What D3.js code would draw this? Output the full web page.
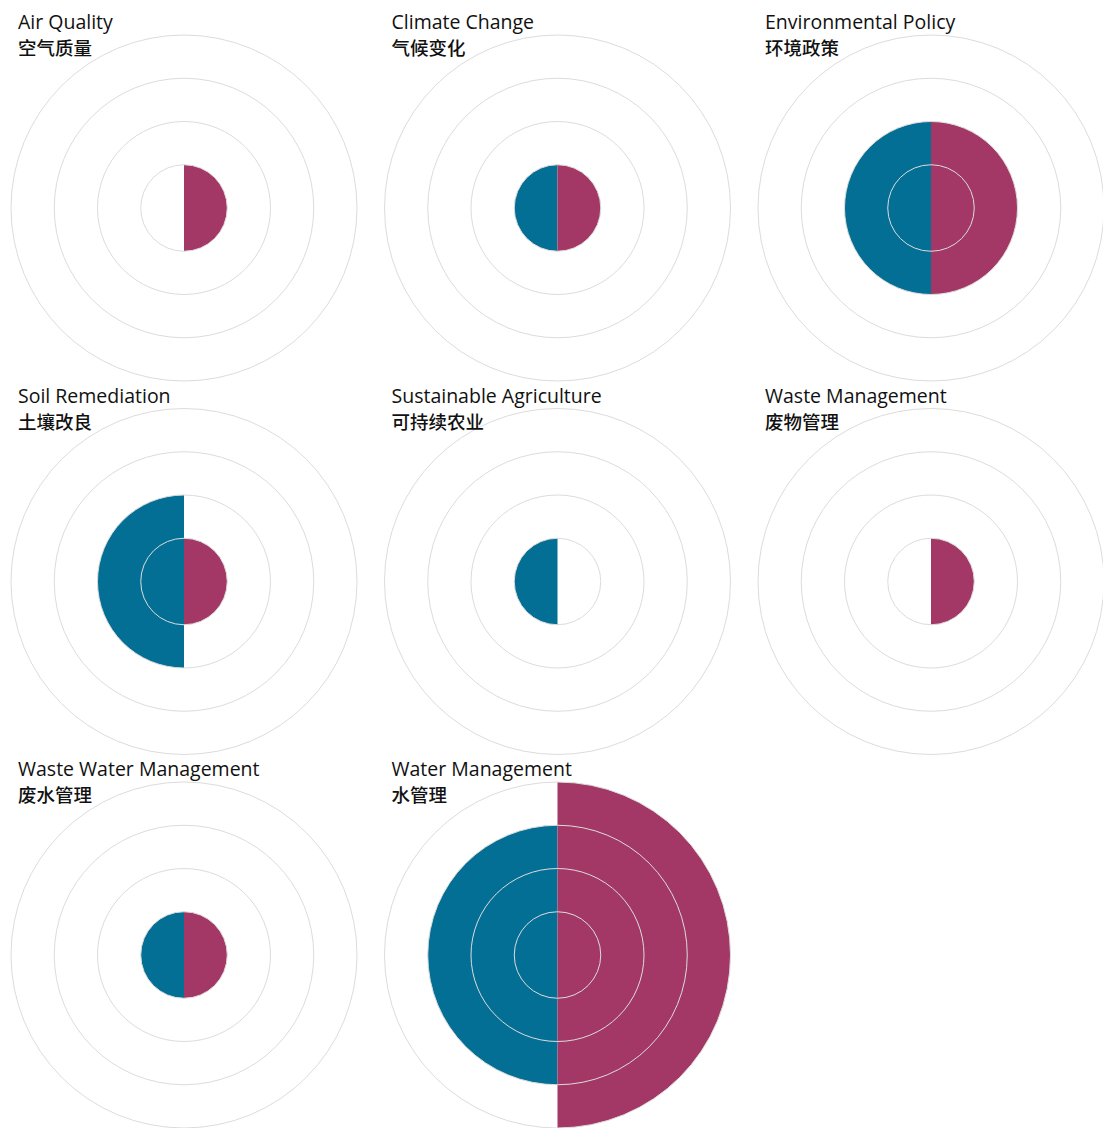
<!DOCTYPE html>
<html>
<head>
<meta charset="utf-8">
<script src="https://cdn.jsdelivr.net/npm/d3@7"></script>
<style>
  body { margin: 0; background: #fff; }
  svg { display: block; }
</style>
</head>
<body>
<div id="chart"></div>
<script>
// topics, english + chinese
var topics = ["Air Quality", "Climate Change", "Environmental Policy",
              "Soil Remediation", "Sustainable Agriculture", "Waste Management",
              "Waste Water Management", "Water Management"];
var topicsZh = ["空气质量", "气候变化", "环境政策",
                "土壤改良", "可持续农业", "废物管理",
                "废水管理", "水管理"];

// left half (blue) and right half (magenta)
var leftValues  = [0, 1, 2, 2, 1, 0, 1, 3];
var rightValues = [1, 1, 2, 1, 0, 1, 1, 4];

var gridTicks = [1, 2, 3, 4];

// set the dimensions
var width = 1103
    height = 1128
    cols = 3
    step = 373.5
    x0 = 184
    y0 = 208
    maxR = 173

var svg = d3.select("#chart")
  .append("svg")
    .attr("width", width)
    .attr("height", height)

var r = d3.scaleLinear()
  .domain([0, 4])
  .range([0, maxR])

var arc = d3.arc()
  .innerRadius(0)
  .outerRadius(function(d) { return r(d.value) })
  .startAngle(function(d) { return d.start })
  .endAngle(function(d) { return d.end })

var charts = svg.selectAll("g.small")
  .data(topics)
  .enter()
  .append("g")
    .attr("class", "small")
    .attr("transform", function(d, i) {
      return "translate(" + (x0 + (i % cols) * step) + "," + (y0 + Math.floor(i / cols) * step) + ")";
    })

// halves
charts.each(function(d, i) {
  var g = d3.select(this);
  var halves = [
    {value: leftValues[i],  start: Math.PI, end: 2 * Math.PI, color: "#046f94"},
    {value: rightValues[i], start: 0,       end: Math.PI,     color: "#a33866"}
  ];
  g.selectAll("path")
    .data(halves.filter(function(h) { return h.value > 0 }))
    .enter()
    .append("path")
      .attr("d", arc)
      .attr("fill", function(h) { return h.color })
});

// grid rings on top
charts.selectAll("circle")
  .data(gridTicks)
  .enter()
  .append("circle")
    .attr("r", function(d) { return r(d) })
    .attr("fill", "none")
    .attr("stroke", "#dcdcdc")
    .attr("stroke-width", 1)

// titles
charts.append("text")
  .attr("x", -166)
  .attr("y", -179)
  .style("font-family", "'Open Sans', sans-serif")
  .style("font-size", "19.5px")
  .style("fill", "#111")
  .text(function(d) { return d })

charts.append("text")
  .attr("x", -166)
  .attr("y", -153)
  .style("font-family", "'Noto Sans CJK SC', sans-serif")
  .style("font-size", "18.5px")
  .style("font-weight", 500)
  .style("fill", "#111")
  .text(function(d, i) { return topicsZh[i] })
</script>
</body>
</html>
